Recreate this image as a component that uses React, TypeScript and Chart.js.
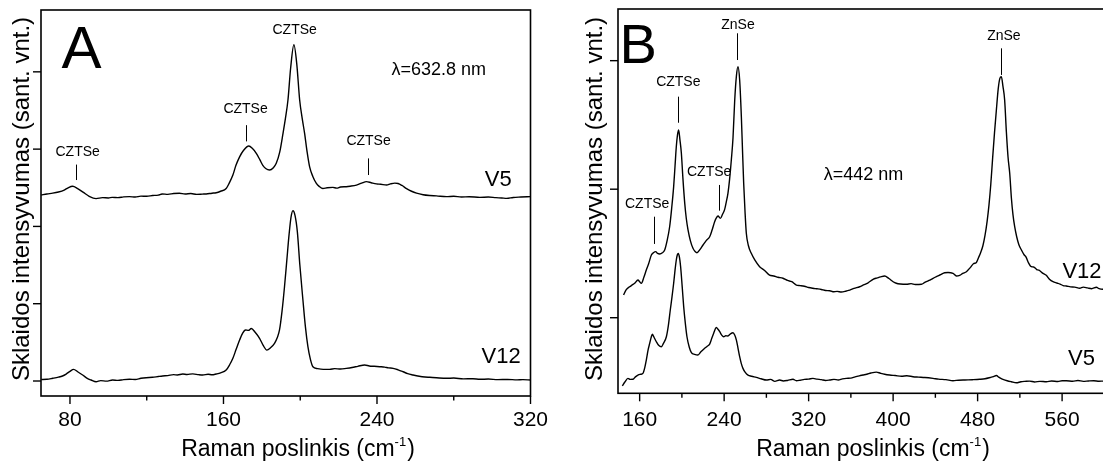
import React, { useEffect, useRef } from "react";
import { Chart, registerables } from "chart.js";

Chart.register(...registerables);

const FONT = '"Liberation Sans", Arial, Helvetica, sans-serif';

// ---------- Panel A (λ = 632.8 nm) : [Raman shift cm-1, intensity a.u.] ----------
const A_V5: [number, number][] = [
  [65, 2406], [68, 2420], [71, 2430], [74, 2445], [77, 2470], [79, 2500], [81.4, 2520], [84, 2490],
  [87, 2440], [90, 2390], [93.6, 2360], [97, 2372], [100, 2368], [102, 2376], [105, 2372], [108, 2382],
  [111, 2385], [114, 2380], [117, 2392], [120, 2390], [123, 2400], [126, 2405], [128, 2420], [131, 2415],
  [134, 2425], [137, 2430], [140, 2420], [143, 2425], [146, 2415], [149, 2418], [151, 2420], [154, 2430],
  [156.2, 2436], [158.5, 2455], [161.4, 2490], [163, 2560], [164.9, 2665], [166.5, 2790], [168.4, 2900],
  [170.5, 2985], [173.2, 3040], [175, 3010], [177.1, 2945], [179, 2860], [180.5, 2790], [182, 2750],
  [184, 2730], [186, 2760], [187.5, 2816], [189.3, 2960], [191, 3200], [192.3, 3400], [193.6, 3635],
  [195, 4050], [196.7, 4350], [198.2, 4100], [199.7, 3635], [201, 3400], [202.3, 3200], [203.6, 2960],
  [204.9, 2770], [206.5, 2650], [208.4, 2557], [210, 2515], [211.8, 2490], [214, 2500], [217, 2505],
  [219, 2495], [221, 2510], [224, 2514], [226, 2520], [229.3, 2535], [232, 2560], [234.5, 2580],
  [237, 2565], [239.7, 2550], [242, 2545], [245, 2535], [247, 2550], [249.3, 2560], [251, 2555],
  [253, 2530], [255.4, 2490], [258, 2455], [260.6, 2430], [264, 2410], [267.5, 2400], [271, 2395],
  [276.2, 2385], [280, 2390], [284, 2380], [288, 2384], [293.6, 2376], [298, 2380], [302, 2372],
  [305, 2368], [307.6, 2363], [311, 2375], [315, 2380], [320, 2385],
];

const A_V12: [number, number][] = [
  [65, 20], [68, 22], [71, 35], [74, 50], [76.1, 65], [78, 90], [80, 125], [81.9, 151], [84, 120],
  [86.6, 78], [89, 35], [91, 13], [93.6, -9], [96, 5], [99, -2], [102.2, 13], [105, 8], [108, 18],
  [111, 22], [114, 20], [117, 35], [119.7, 43], [123, 48], [126, 58], [128.3, 65], [131, 70], [134, 82],
  [136, 78], [138.8, 90], [141, 85], [144, 92], [147, 82], [149.2, 78], [152, 88], [154, 80], [156.2, 90],
  [158.5, 105], [161.4, 142], [163.2, 210], [164.9, 294], [166.6, 410], [168.4, 530], [170, 620],
  [171.5, 660], [173, 655], [174.5, 680], [176.5, 630], [178.8, 552], [180.7, 460], [182.6, 400],
  [184.5, 430], [186.6, 488], [188, 560], [189.2, 660], [190.5, 900], [191.8, 1220], [193, 1560],
  [194.2, 1900], [195.2, 2120], [196.2, 2203], [197.3, 2140], [198.5, 1930], [199.8, 1500], [201.4, 1048],
  [202.7, 700], [204, 444], [205.3, 280], [206.6, 185], [209, 160], [212, 150], [215.3, 150], [218, 160],
  [221, 155], [224, 164], [227, 175], [230, 190], [233.6, 207], [236, 195], [238.5, 190], [241.4, 185],
  [244, 180], [246, 170], [248.4, 164], [251, 145], [253.6, 120], [256, 95], [258.8, 78], [262, 62],
  [265, 52], [267.5, 48], [271, 42], [276.2, 35], [280, 38], [285, 28], [290, 30], [293.6, 22], [298, 25],
  [303, 18], [308, 20], [313, 15], [316, 18], [320, 13],
];

// ---------- Panel B (λ = 442 nm) ----------
const B_V12: [number, number][] = [
  [144.8, 177], [147, 215], [150.5, 241], [153, 255], [155.3, 268], [158.4, 293], [160, 280], [161.6, 268],
  [164, 315], [166.3, 371], [168.5, 420], [171.1, 488], [173, 505], [175.2, 514], [177, 500], [179, 496],
  [181.5, 505], [183.7, 527], [186, 600], [188.4, 708], [190.3, 850], [192.2, 1020], [193.5, 1180],
  [194.7, 1330], [195.8, 1420], [196.9, 1460], [198.2, 1380], [199.5, 1280], [201, 1080], [202.7, 890],
  [204.2, 770], [205.8, 683], [208, 600], [210.5, 540], [212.5, 515], [214.3, 506], [217, 530],
  [220, 566], [223, 600], [226.3, 630], [228.5, 680], [231, 747], [232.5, 775], [234.2, 791], [236.4, 773],
  [238.5, 805], [240.5, 843], [242, 900], [243.6, 968], [245.2, 1080], [246.8, 1227], [248.4, 1400],
  [250, 1690], [251.6, 1880], [253.1, 1953], [254.7, 1850], [256.3, 1564], [257.4, 1300], [258.5, 1046],
  [259.8, 820], [261, 657], [263, 560], [265.7, 501], [269, 450], [273.6, 397], [278, 370], [283, 332],
  [287, 325], [291, 315], [295.7, 307], [300, 290], [304, 280], [308.4, 254], [312, 250], [316, 245],
  [320, 235], [324.1, 229], [328, 225], [332, 220], [336, 212], [340, 210], [343, 202], [347, 205],
  [351, 200], [355.7, 208], [359, 215], [363, 228], [368.3, 241], [372, 255], [376, 270], [381, 299],
  [385, 310], [388, 318], [392, 325], [396, 305], [400, 280], [403, 268], [407, 262], [412.6, 260],
  [417, 265], [421, 258], [426.8, 260], [430, 275], [434, 290], [437.8, 307], [441, 320], [445, 335],
  [448.8, 350], [452, 352], [456.7, 345], [459.9, 325], [463, 330], [466, 345], [469.4, 358], [473, 390],
  [476, 420], [478.8, 430], [481, 470], [483, 510], [485, 560], [487, 640], [489, 750], [490.8, 880],
  [492.5, 1040], [494.2, 1240], [496, 1440], [497.8, 1620], [499.5, 1780], [501, 1860], [502.5, 1875],
  [504, 1800], [505.6, 1694], [507.2, 1450], [508.8, 1250], [510.4, 1124], [512, 930], [513.5, 800],
  [515.1, 708], [517, 630], [519, 570], [521.5, 527], [524, 490], [526, 470], [528, 430], [530.9, 397],
  [533, 395], [536, 375], [538, 370], [541.9, 345], [545, 330], [548, 300], [551.4, 280], [555, 270],
  [558, 262], [561, 250], [564, 247], [568, 240], [572, 238], [576.7, 229], [580, 238], [584, 232],
  [588, 226], [592.5, 237], [595, 226], [598.5, 221], [602, 225],
];

const B_V5: [number, number][] = [
  [143.6, -531], [146, -500], [148.9, -472], [151, -480], [153.7, -479], [156, -460], [158.4, -446],
  [161, -440], [163.1, -433], [164.8, -390], [166.3, -329], [168, -250], [169.5, -200], [171, -150],
  [172, -129], [173.5, -150], [175.8, -187], [178, -215], [180.5, -226], [182.5, -200], [185.3, -148],
  [187.2, -60], [189, 60], [190.6, 160], [192.2, 268], [193.5, 370], [194.7, 449], [195.7, 490],
  [196.6, 501], [197.7, 470], [198.8, 397], [200.3, 240], [201.7, 86], [203.2, -40], [204.8, -148],
  [207, -230], [209, -272], [212, -285], [215.2, -290], [218, -265], [221.6, -238], [224, -222],
  [226.3, -205], [228.3, -160], [230.1, -121], [231.5, -90], [232.6, -75], [234.2, -90], [235.8, -109],
  [237.7, -135], [239.6, -148], [241.5, -140], [243.6, -142], [246, -125], [248.4, -117], [250, -135],
  [251.6, -174], [253.2, -240], [254.7, -303], [256.2, -355], [257.8, -394], [260, -425], [262.6, -446],
  [266, -455], [270.5, -464], [275, -475], [280, -485], [284, -480], [288, -495], [292.6, -485],
  [296, -492], [300, -488], [305.2, -479], [308.4, -490], [312, -486], [316, -480], [320, -478],
  [324.1, -472], [328, -478], [332, -482], [336, -488], [339.9, -485], [344, -480], [348, -484],
  [352, -476], [355.7, -472], [360, -470], [364, -460], [368, -452], [371.5, -446], [375, -440],
  [379, -430], [384.1, -423], [388, -432], [392, -440], [396.7, -446], [402, -450], [408, -455],
  [413, -452], [418.8, -459], [424, -462], [430, -465], [437.8, -472], [443, -478], [450, -482],
  [456.7, -490], [462, -486], [468, -484], [475, -482], [482, -479], [487, -475], [492, -465],
  [495, -458], [497.8, -449], [500, -462], [502, -472], [504, -479], [508, -490], [512, -498],
  [516.7, -506], [521, -498], [525, -495], [529.3, -493], [534, -500], [539, -495], [545.1, -498],
  [550, -492], [556, -496], [560, -490], [564, -490], [570, -494], [575, -488], [580, -495],
  [585, -492], [590, -490], [595, -494], [598.5, -493], [602, -492],
];

// ---------- Axis ticks ----------
const A_X_MAJOR = [80, 160, 240, 320];
const A_X_MINOR = [120, 200, 280];
const A_Y_TICKS = [0, 1000, 2000, 3000, 4000];
const B_X_MAJOR = [160, 240, 320, 400, 480, 560];
const B_X_MINOR = [200, 280, 360, 440, 520, 600];
const B_Y_TICKS = [0, 1000, 2000];

const X_TITLE = "Raman poslinkis (cm";
const X_TITLE_SUP = "-1";
const Y_TITLE = "Sklaidos intensyvumas (sant. vnt.)";

type Ann = {
  text: string;
  x: number;
  y: number;
  size: number;
  align?: CanvasTextAlign;
  baseline?: CanvasTextBaseline;
  line?: [number, number, number];
};

const A_ANN: Ann[] = [
  { text: "CZTSe", x: 84, y: 2960, size: 14, line: [82.9, 2800, 2600] },
  { text: "CZTSe", x: 171.5, y: 3520, size: 14, line: [171.9, 3310, 3100] },
  { text: "CZTSe", x: 197.1, y: 4540, size: 14 },
  { text: "CZTSe", x: 235.6, y: 3100, size: 14, line: [235.2, 2880, 2665] },
  { text: "λ=632.8 nm", x: 247.5, y: 4020, size: 18, align: "left" },
  { text: "V5", x: 310.2, y: 2520, size: 22, align: "right", baseline: "alphabetic" },
  { text: "V12", x: 314.9, y: 229, size: 22, align: "right", baseline: "alphabetic" },
];

const B_ANN: Ann[] = [
  { text: "ZnSe", x: 253.1, y: 2280, size: 14, line: [252.5, 2213, 2005] },
  { text: "CZTSe", x: 196.6, y: 1830, size: 14, line: [196.3, 1720, 1517] },
  { text: "CZTSe", x: 225.8, y: 1136, size: 14, line: [234.8, 1033, 833] },
  { text: "CZTSe", x: 167.1, y: 886, size: 14, line: [173.3, 786, 574] },
  { text: "ZnSe", x: 504.9, y: 2187, size: 14, line: [502.5, 2096, 1889] },
  { text: "λ=442 nm", x: 334.2, y: 1110, size: 18, align: "left" },
  { text: "V12", x: 560.3, y: 307, size: 22, align: "left", baseline: "alphabetic" },
  { text: "V5", x: 565.6, y: -368, size: 22, align: "left", baseline: "alphabetic" },
];

type PanelCfg = {
  letter: string;
  letterSize: number;
  letterDx: number;
  letterBaseline: number;
  xMajor: number[];
  xMinor: number[];
  yTicks: number[];
  tickLabelDy: number;
  yTitleX: number;
  titleDx: number;
  ann: Ann[];
};

function panelPlugin(cfg: PanelCfg) {
  return {
    id: "panelDecor",
    afterDatasetsDraw(chart: any) {
      const { ctx, chartArea: ca, scales } = chart;
      const xs = scales.x;
      const ys = scales.y;
      ctx.save();
      ctx.strokeStyle = "#000";
      ctx.fillStyle = "#000";
      ctx.lineWidth = 1.6;
      ctx.strokeRect(ca.left, ca.top, ca.right - ca.left, ca.bottom - ca.top);

      const seg = (x1: number, y1: number, x2: number, y2: number) => {
        ctx.beginPath();
        ctx.moveTo(x1, y1);
        ctx.lineTo(x2, y2);
        ctx.stroke();
      };
      ctx.lineWidth = 1.4;
      for (const t of cfg.xMajor) {
        const px = xs.getPixelForValue(t);
        seg(px, ca.bottom, px, ca.bottom + 8);
      }
      for (const t of cfg.xMinor) {
        const px = xs.getPixelForValue(t);
        seg(px, ca.bottom, px, ca.bottom + 4.5);
      }
      for (const t of cfg.yTicks) {
        const py = ys.getPixelForValue(t);
        seg(ca.left - 8, py, ca.left, py);
      }

      // tick labels
      ctx.font = `21px ${FONT}`;
      ctx.textAlign = "center";
      ctx.textBaseline = "middle";
      for (const t of cfg.xMajor) {
        ctx.fillText(String(t), xs.getPixelForValue(t), ca.bottom + cfg.tickLabelDy);
      }

      // x title with superscript
      ctx.textBaseline = "alphabetic";
      ctx.textAlign = "left";
      ctx.font = `23px ${FONT}`;
      const w1 = ctx.measureText(X_TITLE).width;
      const w3 = ctx.measureText(")").width;
      ctx.font = `13px ${FONT}`;
      const w2 = ctx.measureText(X_TITLE_SUP).width;
      const cx = ca.left + cfg.titleDx;
      let sx = cx - (w1 + w2 + w3 + 1) / 2;
      const base = 456;
      ctx.font = `23px ${FONT}`;
      ctx.fillText(X_TITLE, sx, base);
      sx += w1;
      ctx.font = `13px ${FONT}`;
      ctx.fillText(X_TITLE_SUP, sx, base - 10);
      sx += w2 + 1;
      ctx.font = `23px ${FONT}`;
      ctx.fillText(")", sx, base);

      // y title
      ctx.save();
      ctx.translate(cfg.yTitleX, 199);
      ctx.rotate(-Math.PI / 2);
      ctx.font = `24px ${FONT}`;
      ctx.textAlign = "center";
      ctx.textBaseline = "middle";
      ctx.fillText(Y_TITLE, 0, 0);
      ctx.restore();

      // panel letter
      ctx.font = `${cfg.letterSize}px ${FONT}`;
      ctx.textAlign = "left";
      ctx.textBaseline = "alphabetic";
      ctx.fillText(cfg.letter, ca.left + cfg.letterDx, cfg.letterBaseline);

      // annotations
      for (const a of cfg.ann) {
        ctx.font = `${a.size}px ${FONT}`;
        ctx.textAlign = a.align || "center";
        ctx.textBaseline = a.baseline || "middle";
        ctx.fillText(a.text, xs.getPixelForValue(a.x), ys.getPixelForValue(a.y));
        if (a.line) {
          ctx.lineWidth = 1;
          const lx = Math.round(xs.getPixelForValue(a.line[0])) + 0.5;
          seg(lx, ys.getPixelForValue(a.line[1]), lx, ys.getPixelForValue(a.line[2]));
        }
      }
      ctx.restore();
    },
  };
}

function toXY(arr: [number, number][]) {
  return arr.map(([x, y]) => ({ x, y }));
}

function makeChart(
  canvas: HTMLCanvasElement,
  series: [number, number][][],
  xMin: number,
  xMax: number,
  yMin: number,
  yMax: number,
  padding: { left: number; right: number; top: number; bottom: number },
  cfg: PanelCfg
) {
  return new Chart(canvas, {
    type: "line",
    data: {
      datasets: series.map((s) => ({
        data: toXY(s),
        borderColor: "#000",
        borderWidth: 1.4,
        pointRadius: 0,
        fill: false,
        cubicInterpolationMode: "monotone" as const,
      })),
    },
    options: {
      responsive: false,
      animation: false,
      devicePixelRatio: 1,
      events: [],
      layout: { padding },
      scales: {
        x: { type: "linear", min: xMin, max: xMax, display: false },
        y: { type: "linear", min: yMin, max: yMax, display: false },
      },
      plugins: { legend: { display: false }, tooltip: { enabled: false }, title: { display: false } },
    },
    plugins: [panelPlugin(cfg)],
  } as any);
}

export default function App() {
  const refA = useRef<HTMLCanvasElement>(null);
  const refB = useRef<HTMLCanvasElement>(null);

  useEffect(() => {
    const a = makeChart(
      refA.current!,
      [A_V5, A_V12],
      64.9,
      320,
      -194,
      4800,
      { left: 41, right: 19.5, top: 10, bottom: 68 },
      {
        letter: "A",
        letterSize: 60,
        letterDx: 20.5,
        letterBaseline: 68,
        xMajor: A_X_MAJOR,
        xMinor: A_X_MINOR,
        yTicks: A_Y_TICKS,
        tickLabelDy: 24,
        yTitleX: 22,
        titleDx: 257,
        ann: A_ANN,
      }
    );
    const b = makeChart(
      refB.current!,
      [B_V12, B_V5],
      139.5,
      620.5,
      -588,
      2402,
      { left: 68, right: 4, top: 9, bottom: 70.7 },
      {
        letter: "B",
        letterSize: 56,
        letterDx: 1.5,
        letterBaseline: 63,
        xMajor: B_X_MAJOR,
        xMinor: B_X_MINOR,
        yTicks: B_Y_TICKS,
        tickLabelDy: 27,
        yTitleX: 45,
        titleDx: 255,
        ann: B_ANN,
      }
    );
    return () => {
      a.destroy();
      b.destroy();
    };
  }, []);

  return (
    <div
      style={{
        position: "absolute",
        left: 0,
        top: 0,
        width: 1103,
        height: 464,
        overflow: "hidden",
        background: "#fff",
      }}
    >
      <canvas
        ref={refA}
        width={550}
        height={464}
        style={{ position: "absolute", left: 0, top: 0, width: 550, height: 464 }}
      />
      <canvas
        ref={refB}
        width={580}
        height={464}
        style={{ position: "absolute", left: 550, top: 0, width: 580, height: 464 }}
      />
    </div>
  );
}
